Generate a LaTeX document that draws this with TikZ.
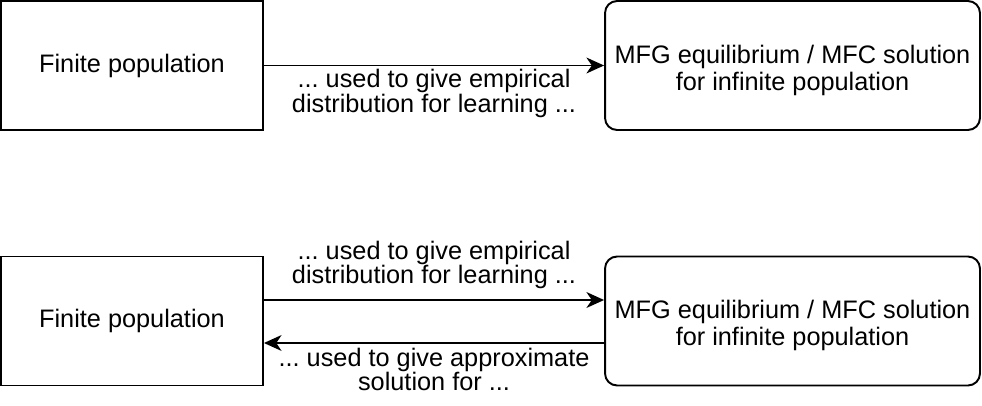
\documentclass[tikz,border=0pt]{standalone}
\usepackage{fontspec}
\setmainfont{Liberation Sans}
\usetikzlibrary{arrows.meta,positioning}

\tikzset{
    box/.style={draw, line width=1.1pt, minimum width=5.24cm, minimum height=2.58cm,
        inner sep=0pt, align=center, font=\fontsize{14.4}{15.4}\selectfont},
    goal/.style={box, rounded corners=0.24cm, minimum width=7.5cm, text height=1.1cm, text depth=0.1cm},
    flow/.style={line width=1.1pt, -{Stealth[length=10pt, width=9pt, inset=3pt]}},
    note/.style={align=center, inner sep=0pt, font=\fontsize{14.4}{13.8}\selectfont\frenchspacing}
}

\begin{document}
\begin{tikzpicture}[x=0.02cm, y=-0.02cm]
    \useasboundingbox (0, 0) rectangle (982, 405);

    % one way
    \node[box] (fin1) at (132, 65.5) {Finite population};
    \node[goal] (mfg1) at (792.5, 65.5) {MFG equilibrium / MFC solution\\for infinite population};
    \draw[flow] (fin1) -- node[note, below=0.06cm] {... used to give empirical\\distribution for learning ...} (mfg1);

    % both ways
    \node[box] (fin2) at (132, 321) {Finite population};
    \node[goal] (mfg2) at (792.5, 321) {MFG equilibrium / MFC solution\\for infinite population};
    \draw[flow] ([yshift=0.42cm]fin2.east) -- node[note, above=0.2cm] {... used to give empirical\\distribution for learning ...} ([yshift=0.42cm]mfg2.west);
    \draw[flow] ([yshift=-0.44cm]mfg2.west) -- node[note, below=0.08cm] {... used to give approximate\\solution for ...} ([yshift=-0.44cm]fin2.east);

\end{tikzpicture}
\end{document}
